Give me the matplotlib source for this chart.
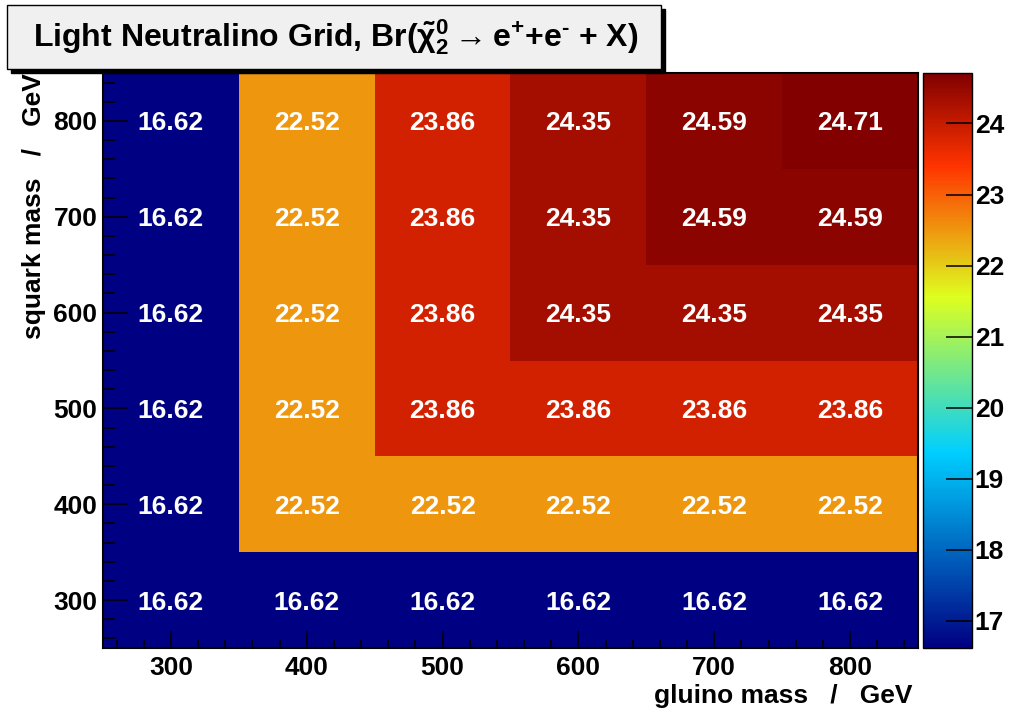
import numpy as np
import matplotlib
matplotlib.use("Agg")
import matplotlib.pyplot as plt
from matplotlib.colors import LinearSegmentedColormap
from matplotlib.patches import Rectangle
from matplotlib.ticker import MultipleLocator
import matplotlib.transforms as mtransforms

plt.rcParams['font.family'] = ['Liberation Sans', 'DejaVu Sans']
plt.rcParams['font.weight'] = 'bold'
plt.rcParams['mathtext.fontset'] = 'custom'
plt.rcParams['mathtext.rm'] = 'Liberation Sans:bold'
plt.rcParams['mathtext.it'] = 'Liberation Sans:bold'
plt.rcParams['mathtext.bf'] = 'Liberation Sans:bold'

# data
gluino = [300, 400, 500, 600, 700, 800]
squark = [300, 400, 500, 600, 700, 800]
br_300 = [16.62, 16.62, 16.62, 16.62, 16.62, 16.62]
br_400 = [16.62, 22.52, 22.52, 22.52, 22.52, 22.52]
br_500 = [16.62, 22.52, 23.86, 23.86, 23.86, 23.86]
br_600 = [16.62, 22.52, 23.86, 24.35, 24.35, 24.35]
br_700 = [16.62, 22.52, 23.86, 24.35, 24.59, 24.59]
br_800 = [16.62, 22.52, 23.86, 24.35, 24.59, 24.71]
cbar_ticks = [17, 18, 19, 20, 21, 22, 23, 24]

Z = np.array([br_300, br_400, br_500, br_600, br_700, br_800])

# ROOT-like gradient palette
stops = [0.00, 0.34, 0.61, 0.84, 1.00]
red = [0.00, 0.00, 0.87, 1.00, 0.51]
green = [0.00, 0.81, 1.00, 0.20, 0.00]
blue = [0.51, 1.00, 0.12, 0.00, 0.00]
cmap = LinearSegmentedColormap.from_list(
    'root', list(zip(stops, zip(red, green, blue))), N=255)

FS = 19
W, H = 1012, 713
fig = plt.figure(figsize=(W / 100, H / 100), dpi=100)
fig.patch.set_facecolor('white')

ax = fig.add_axes([103 / W, 65 / H, 815 / W, 575 / H])
xe = np.arange(250, 851, 100)
ye = np.arange(250, 851, 100)
vmin, vmax = Z.min(), Z.max()
mesh = ax.pcolormesh(xe, ye, Z, cmap=cmap, vmin=vmin, vmax=vmax)
# shift baseline down by half cap height so digits are centred in the bin
txt_tr = ax.transData + mtransforms.ScaledTranslation(0, -9.5 / 100, fig.dpi_scale_trans)
for i, yv in enumerate(squark):
    for j, xv in enumerate(gluino):
        ax.text(xv, yv, f"{Z[i, j]:.2f}", color='white', fontsize=FS,
                fontweight='bold', ha='center', va='baseline', transform=txt_tr)

ax.set_xlim(250, 850)
ax.set_ylim(250, 850)
ax.xaxis.set_major_locator(MultipleLocator(100))
ax.xaxis.set_minor_locator(MultipleLocator(20))
ax.yaxis.set_major_locator(MultipleLocator(100))
ax.yaxis.set_minor_locator(MultipleLocator(20))
ax.tick_params(axis='x', which='major', direction='in', length=12.2, width=1.1,
               labelsize=FS, pad=6, top=False)
ax.tick_params(axis='x', which='minor', direction='in', length=5.8, width=1.1, top=False)
ax.tick_params(axis='y', which='major', direction='in', length=18, width=1.1,
               labelsize=FS, pad=4, right=False)
ax.tick_params(axis='y', which='minor', direction='in', length=8.6, width=1.1, right=False)
for lab in ax.get_xticklabels() + ax.get_yticklabels():
    lab.set_fontweight('bold')
for s in ax.spines.values():
    s.set_linewidth(1.5)

cax = fig.add_axes([923 / W, 65 / H, 49 / W, 575 / H])
cb = fig.colorbar(mesh, cax=cax)
cb.set_ticks(cbar_ticks)
cb.outline.set_linewidth(1.0)
cax.tick_params(direction='in', length=18.5, width=1.1, labelsize=FS, pad=2)
cax.minorticks_off()
for lab in cax.get_yticklabels():
    lab.set_fontweight('bold')

fig.text(913 / W, 10 / H, "gluino mass   /   GeV", ha='right', va='baseline',
         fontsize=FS, fontweight='bold')
fig.text(34 / W, 640 / H, "squark mass   /   GeV", ha='center', va='top',
         rotation=90, fontsize=FS, fontweight='bold')

# title box with shadow
bx0, by0, bw, bh = 7, 69, 654, 64
fig.patches.append(Rectangle(((bx0 + 4) / W, (H - by0 - 4) / H), bw / W, bh / H,
                             transform=fig.transFigure, facecolor='black',
                             edgecolor='black', zorder=10))
fig.patches.append(Rectangle((bx0 / W, (H - by0) / H), bw / W, bh / H,
                             transform=fig.transFigure, facecolor='#f0f0f0',
                             edgecolor='black', linewidth=1.0, zorder=11))
fig.text(336 / W, (H - 37) / H,
         "Light Neutralino Grid, Br($\\tilde{\\chi}^{0}_{2}\\rightarrow$e$^{+}$+e$^{\u2010}$ + X)",
         ha='center', va='center', fontsize=23, fontweight='bold', zorder=12)

fig.savefig("out.png", dpi=100)
